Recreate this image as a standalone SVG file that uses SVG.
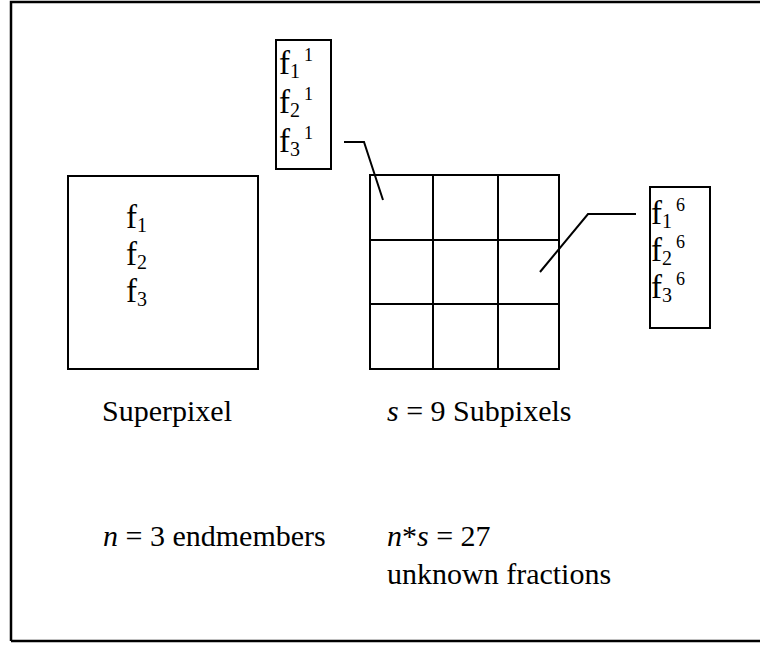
<svg xmlns="http://www.w3.org/2000/svg" width="760" height="645" viewBox="0 0 760 645">
<style>
.box{fill:none;stroke:#000;stroke-width:2}
.ln{fill:none;stroke:#000;stroke-width:2}
text{font-family:"Liberation Serif","Times New Roman",serif;fill:#000}
.f{font-size:33px}
.lab{font-size:30px}
.sub{font-size:20px}
.sup{font-size:18px}
</style>
<rect x="0" y="0" width="760" height="645" fill="#fff"/>
<path d="M11,641 V2 H760 M11,641 H760" fill="none" stroke="#000" stroke-width="2.5"/>
<g id="superpixel">
<rect class="box" x="68" y="176" width="190" height="193"/>
<text class="f" x="126" y="228">f<tspan class="sub" dy="4">1</tspan></text>
<text class="f" x="126" y="265">f<tspan class="sub" dy="4">2</tspan></text>
<text class="f" x="126" y="302">f<tspan class="sub" dy="4">3</tspan></text>
</g>
<g id="subpixels">
<rect class="box" x="370" y="175" width="189" height="194"/>
<path class="ln" d="M433,175 V369 M498,175 V369 M370,240 H559 M370,304 H559"/>
</g>
<g id="fractions1">
<rect class="box" x="276" y="40" width="55" height="129"/>
<text class="f" x="279" y="74">f<tspan class="sub" dy="4">1</tspan><tspan class="sup" dx="4" dy="-17">1</tspan></text>
<text class="f" x="279" y="113">f<tspan class="sub" dy="4">2</tspan><tspan class="sup" dx="4" dy="-17">1</tspan></text>
<text class="f" x="279" y="152">f<tspan class="sub" dy="4">3</tspan><tspan class="sup" dx="4" dy="-17">1</tspan></text>
</g>
<g id="fractions6">
<rect class="box" x="650" y="187" width="60" height="141"/>
<text class="f" x="651" y="224">f<tspan class="sub" dy="4">1</tspan><tspan class="sup" dx="4" dy="-17">6</tspan></text>
<text class="f" x="651" y="261">f<tspan class="sub" dy="4">2</tspan><tspan class="sup" dx="4" dy="-17">6</tspan></text>
<text class="f" x="651" y="298">f<tspan class="sub" dy="4">3</tspan><tspan class="sup" dx="4" dy="-17">6</tspan></text>
</g>
<g id="connectors">
<polyline class="ln" points="344,142 364,142 383,200"/>
<polyline class="ln" points="540,272 588,214 636,214"/>
</g>
<g id="labels">
<text class="lab" x="102" y="421">Superpixel</text>
<text class="lab" x="387" y="421"><tspan font-style="italic">s</tspan> = 9 Subpixels</text>
<text class="lab" x="103" y="546"><tspan font-style="italic">n</tspan> = 3 endmembers</text>
<text class="lab" x="387" y="546"><tspan font-style="italic">n</tspan>*<tspan font-style="italic">s</tspan> = 27</text>
<text class="lab" x="387" y="584">unknown fractions</text>
</g>
</svg>
